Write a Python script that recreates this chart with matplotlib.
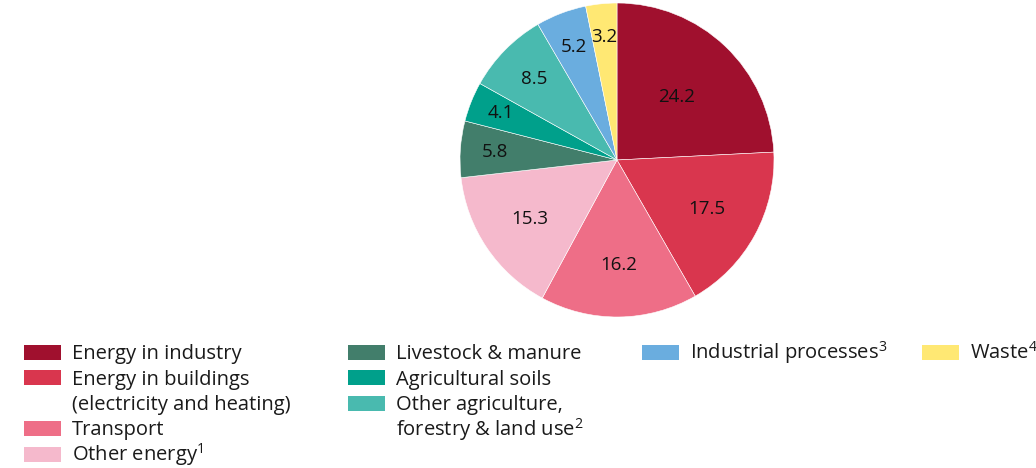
import numpy as np
import matplotlib
matplotlib.use("Agg")
import matplotlib.pyplot as plt
from matplotlib.patches import Rectangle

plt.rcParams['font.family'] = ['Open Sans', 'DejaVu Sans']
plt.rcParams['mathtext.default'] = 'regular'

# data
categories = ["Energy in industry", "Energy in buildings\n(electricity and heating)", "Transport",
              "Other energy$^{1}$", "Livestock & manure", "Agricultural soils",
              "Other agriculture,\nforestry & land use$^{2}$", "Industrial processes$^{3}$", "Waste$^{4}$"]
values = [24.2, 17.5, 16.2, 15.3, 5.8, 4.1, 8.5, 5.2, 3.2]
colors = ["#A0102E", "#D9364E", "#EE6E87", "#F5B9CC", "#427E6B",
          "#00A08B", "#49BAAF", "#6AADDF", "#FFE873"]

# how far out each value label sits (fraction of radius)
label_r = [0.55, 0.65, 0.67, 0.67, 0.78, 0.8, 0.74, 0.77, 0.79]

# legend layout: column, line
leg_col = [0, 0, 0, 0, 1, 1, 1, 2, 3]
leg_line = [0, 1, 3, 4, 0, 1, 2, 0, 0]
col_x = [24, 348, 642, 922]

W, H = 1036, 468
fig = plt.figure(figsize=(W / 100, H / 100), dpi=100)

cx, cy, r = 617, 160, 157
ax = fig.add_axes([(cx - r) / W, 1 - (cy + r) / H, 2 * r / W, 2 * r / H])
wedges, _ = ax.pie(values, colors=colors, startangle=90, counterclock=False,
                   radius=1, wedgeprops=dict(edgecolor='white', linewidth=0.4))
for w, v, lr in zip(wedges, values, label_r):
    ang = np.deg2rad((w.theta1 + w.theta2) / 2)
    ax.text(lr * np.cos(ang), lr * np.sin(ang), f"{v:.1f}", ha='center', va='center',
            fontsize=13.5, color='#111111')
ax.set_xlim(-1, 1)
ax.set_ylim(-1, 1)
ax.set_aspect('equal')
ax.axis('off')

# legend
line0 = 352
step = 25.5
for lab, c, col, ln in zip(categories, colors, leg_col, leg_line):
    y = line0 + ln * step
    x = col_x[col]
    fig.add_artist(Rectangle((x / W, 1 - (y + 7.5) / H), 37 / W, 15 / H,
                             transform=fig.transFigure, color=c, lw=0))
    for k, part in enumerate(lab.split("\n")):
        fig.text((x + 48) / W, 1 - (y + 7 + k * step) / H, part, ha='left', va='baseline',
                 fontsize=14.5, color='#1a1a1a')

fig.savefig("out.png", dpi=100)
